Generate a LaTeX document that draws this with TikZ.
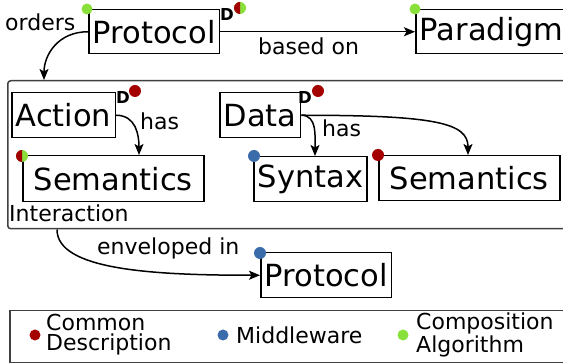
\documentclass[tikz,border=0pt]{standalone}
\usepackage{fontspec}
\setmainfont{DejaVu Sans}
\usetikzlibrary{arrows.meta,calc}
\definecolor{cdred}{HTML}{A50000}
\definecolor{mwblue}{HTML}{3A6BAA}
\definecolor{cagreen}{HTML}{8AE03A}
\begin{document}
\begin{tikzpicture}[x=1pt,y=-1pt,
  bx/.style={draw, line width=1.5pt, font=\fontsize{30.5}{36}\selectfont, inner xsep=4pt, inner ysep=0pt, anchor=north west},
  lbl/.style={font=\fontsize{22}{20}\selectfont, inner sep=0pt},
  dmark/.style={font=\bfseries\fontsize{16.5}{16}\selectfont, inner sep=0pt},
  arr/.style={line width=1.5pt, -{Stealth[length=11pt,width=9pt,inset=2.5pt]}},
  frame/.style={draw=black!75, line width=1.5pt, inner sep=0pt, anchor=north west}]
\path[use as bounding box] (0,0) rectangle (563,363);
\clip (0,0) rectangle (563,363);

% frames
\node[frame, rounded corners=3pt, minimum width=613pt, minimum height=148pt] (inter) at (7,80) {};
\node[frame, minimum width=620pt, minimum height=52pt] (leg) at (9,310) {};

% boxes
\node[bx, minimum height=44pt] (p1) at (88,9) {Protocol};
\node[bx, minimum height=44pt] (par) at (415,9) {Paradigm};
\node[bx, minimum height=45pt] (act) at (11,92) {Action};
\node[bx, minimum height=46pt, minimum width=181pt] (sem1) at (22,155) {Semantics};
\node[bx, minimum height=45pt] (dat) at (219,92) {Data};
\node[bx, minimum height=45pt] (syn) at (253,156) {Syntax};
\node[bx, minimum height=45pt, minimum width=181pt] (sem2) at (378,155) {Semantics};
\node[bx, minimum height=45pt] (p2) at (260,252) {Protocol};

% labels
\node[lbl, anchor=base west] (lorders) at (5,31) {orders};
\node[lbl, anchor=base west] (lbased) at (258,55) {based on};
\node[lbl, anchor=base west] (lhas1) at (140,130) {has};
\node[lbl, anchor=base west] (lhas2) at (322,137) {has};
\node[lbl, anchor=base west] (linter) at (9,222) {Interaction};
\node[lbl, anchor=base west] (lenv) at (97,255) {enveloped in};

% D marks
\node[dmark, anchor=base west] (d1) at (220,21) {D};
\node[dmark, anchor=base west] (d2) at (116,104) {D};
\node[dmark, anchor=base west] (d3) at (298,104) {D};

% dots
\fill[cagreen] (87,9) circle (5.5);
\fill[cagreen] (415,9) circle (5.5);
\fill[cagreen] (240,8) circle (6);
\fill[cdred] (240,8) -- ++(0,6) arc (90:270:6) -- cycle;
\fill[cdred] (135,91) circle (6);
\fill[cagreen] (22,156) circle (6);
\fill[cdred] (22,156) -- ++(0,6) arc (90:270:6) -- cycle;
\fill[cdred] (318,91) circle (6);
\fill[mwblue] (254,156) circle (6);
\fill[cdred] (378,155) circle (6);
\fill[mwblue] (260,253) circle (6);

% connectors
\draw[arr] (p1.west) to[out=180, in=90, out distance=30pt, in distance=25pt] ($(inter.north west)+(37,0)$);
\draw[arr] (p1.east) -- (par.west);
\draw[arr] (act.east) to[out=0, in=90, out distance=20pt, in distance=20pt] ($(sem1.north west)+(117,0)$);
\draw[arr] (dat.east) to[out=0, in=90, out distance=16pt, in distance=20pt] ($(syn.north west)+(62,0)$);
\draw[arr] (dat.east) to[out=0, in=90, out distance=135pt, in distance=32pt] ($(sem2.north west)+(90,0)$);
\draw[arr] ($(inter.south west)+(50,0)$) to[out=-90, in=180, out distance=40pt, in distance=110pt] (p2.west);

% legend
\fill[cdred] (35,335) circle (5.5);
\fill[mwblue] (223,335) circle (5.5);
\fill[cagreen] (403,335) circle (5.5);
\node[lbl, anchor=west, align=left] (lcd) at (46,335) {Common\\Description};
\node[lbl, anchor=west] (lmw) at (236,335) {Middleware};
\node[lbl, anchor=west, align=left] (lca) at (416,335) {Composition\\Algorithm};
\end{tikzpicture}
\end{document}
